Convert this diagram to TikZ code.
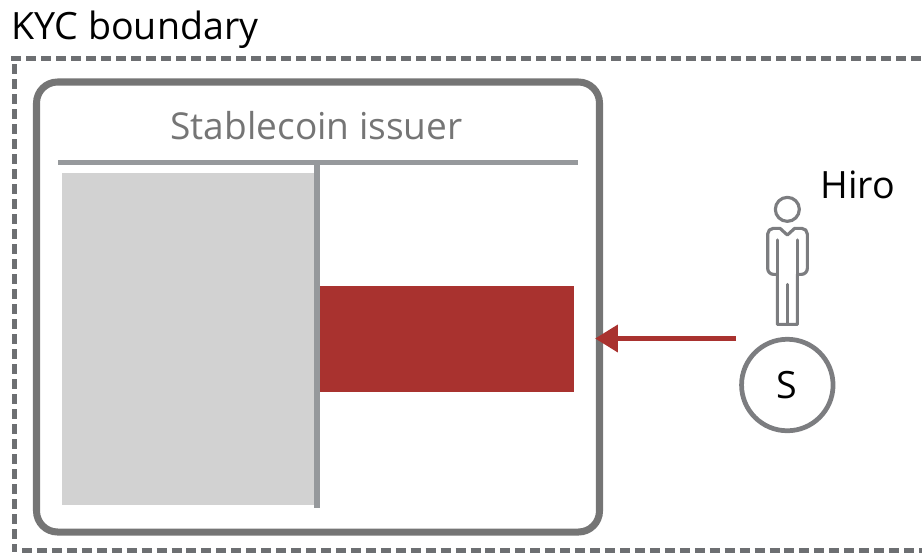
\documentclass[tikz,border=0pt]{standalone}
\usepackage{fontspec}
\setmainfont{Open Sans}
\usetikzlibrary{arrows.meta}
\definecolor{kycgray}{HTML}{6D6F72}
\definecolor{boxgray}{HTML}{757575}
\definecolor{rulegray}{HTML}{96999C}
\definecolor{fillgray}{HTML}{D2D2D2}
\definecolor{tokenred}{HTML}{A9322F}
\newlength{\pxu}
\setlength{\pxu}{0.02cm}
\tikzset{
  bigtext/.style={font=\fontsize{21.4}{25}\selectfont,inner sep=0pt},
  kycline/.style={draw=kycgray,line width=5\pxu,dash pattern=on 10\pxu off 5\pxu},
  issuerbox/.style={draw=boxgray,line width=4pt,rounded corners=12pt,minimum width=563\pxu,minimum height=450\pxu,inner sep=0pt},
  block/.style={inner sep=0pt,outer sep=0pt},
  person/.style={draw=kycgray!90,line width=1.8pt,line join=round,line cap=round}
}
\begin{document}
\begin{tikzpicture}[x=0.02cm,y=-0.02cm]
\useasboundingbox(0,0)rectangle(922,552);
\clip(0,0)rectangle(922,552);
\coordinate(T1)at(11,58.5);\coordinate(T2)at(930,58.5);
\coordinate(L1)at(14.5,64);\coordinate(L2)at(14.5,552);
\coordinate(B1)at(22,550);\coordinate(B2)at(930,550);
\draw[kycline](T1)--(T2)(L1)--(L2);
\draw[kycline,dash pattern=on 10\pxu off 4.95\pxu](B1)--(B2);
\node[bigtext,anchor=base west](kyc)at(11,39){KYC boundary};
\node[issuerbox](issuer)at(318,307){};
\node[bigtext,font=\fontsize{21.1}{25}\selectfont,text=boxgray,anchor=base](title)at(316.5,139){Stablecoin issuer};
\node[block,fill=fillgray,minimum width=252\pxu,minimum height=332\pxu,anchor=north west](ledger)at(62,173){};
\node[block,fill=tokenred,minimum width=254\pxu,minimum height=106.5\pxu,anchor=north west](tokens)at(320,285.5){};
\coordinate(R1)at(58,162.5);\coordinate(R2)at(578,162.5);
\coordinate(V1)at(317,162.5);\coordinate(V2)at(317,508);
\draw[rulegray,line width=3.4pt](R1)--(R2)(V1)--(V2);
\node[circle,draw=kycgray!90,line width=2.7pt,minimum size=91.5\pxu,inner sep=0pt,bigtext](token)at(787.3,385){S};
\node[bigtext,anchor=base west](hiro)at(820,198){Hiro};
\coordinate(A1)at(736,338.5);\coordinate(A2)at(595,338.5);
\draw[tokenred,line width=3.1pt,-{Triangle[length=13pt,width=15pt]}](A1)--(A2);
\begin{scope}[shift={(720,160)},scale=1/3]
\draw[person](202,148)circle(36);
\draw[person](202,225)--(180,205)--(160,205)to[out=180,in=90](143,222)--(143,325)to[out=-90,in=180](160,343)--(172,343)--(172,493)--(232,493)--(232,343)--(245,343)to[out=0,in=-90](262,325)--(262,222)to[out=90,in=0](245,205)--(224,205)--cycle;
\draw[person](172,240)--(172,343)(232,240)--(232,343)(202,373)--(202,493);
\end{scope}
\end{tikzpicture}
\end{document}
